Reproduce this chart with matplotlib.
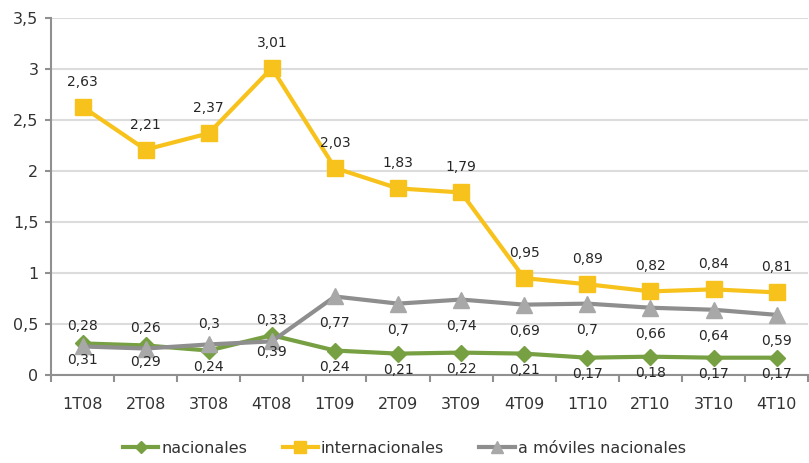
import matplotlib.pyplot as plt
import numpy as np

# datos
trimestres = ['1T08', '2T08', '3T08', '4T08', '1T09', '2T09', '3T09', '4T09', '1T10', '2T10', '3T10', '4T10']
nacionales = [0.31, 0.29, 0.24, 0.39, 0.24, 0.21, 0.22, 0.21, 0.17, 0.18, 0.17, 0.17]
internacionales = [2.63, 2.21, 2.37, 3.01, 2.03, 1.83, 1.79, 0.95, 0.89, 0.82, 0.84, 0.81]
moviles = [0.28, 0.26, 0.3, 0.33, 0.77, 0.7, 0.74, 0.69, 0.7, 0.66, 0.64, 0.59]

def coma(v):
    return ('%g' % v).replace('.', ',')

fig = plt.figure(figsize=(8.09, 4.63), dpi=100)
ax = fig.add_axes([0.063, 0.19, 0.936, 0.771])
x = np.arange(len(trimestres))

ax.plot(x, nacionales, color='#77a043', lw=3, marker='D', ms=8,
        mfc='#77a043', mec='#77a043', label='nacionales', zorder=3)
ax.plot(x, internacionales, color='#f8c21c', lw=3, marker='s', ms=11,
        mfc='#f8c21c', mec='#f8c21c', label='internacionales', zorder=3)
ax.plot(x, moviles, color='#8e8e8e', lw=3, marker='^', ms=11,
        mfc='#a8a8a8', mec='#a8a8a8', label='a móviles nacionales', zorder=3)

# etiquetas de datos
for i in x:
    ax.annotate(coma(internacionales[i]), (i, internacionales[i]), xytext=(0, 13),
                textcoords='offset points', ha='center', va='bottom', fontsize=10, color='#262626')
    ax.annotate(coma(nacionales[i]), (i, nacionales[i]), xytext=(0, -7),
                textcoords='offset points', ha='center', va='top', fontsize=10, color='#262626')
    if i < 4:
        ax.annotate(coma(moviles[i]), (i, moviles[i]), xytext=(0, 10),
                    textcoords='offset points', ha='center', va='bottom', fontsize=10, color='#262626')
    else:
        ax.annotate(coma(moviles[i]), (i, moviles[i]), xytext=(0, -14),
                    textcoords='offset points', ha='center', va='top', fontsize=10, color='#262626')

ax.set_xlim(-0.5, 11.5)
ax.set_ylim(0, 3.5)
ax.set_yticks(np.arange(0, 3.6, 0.5))
ax.set_yticklabels([coma(v) for v in np.arange(0, 3.6, 0.5)])
ax.set_xticks(x)
ax.set_xticklabels(trimestres)
ax.set_xticks(np.arange(-0.5, 12, 1), minor=True)
ax.tick_params(axis='x', which='major', length=0, pad=16, labelsize=11.5, colors='#333333')
ax.tick_params(axis='x', which='minor', length=5, width=1.5, color='#909090')
ax.tick_params(axis='y', length=4, width=1.5, color='#909090', labelsize=11.5, labelcolor='#333333', pad=5)

ax.grid(axis='y', color='#dcdcdc', lw=1.5)
ax.set_axisbelow(True)
for s in ['top', 'right']:
    ax.spines[s].set_visible(False)
ax.spines['left'].set_color('#909090')
ax.spines['left'].set_linewidth(1.5)
ax.spines['bottom'].set_color('#909090')
ax.spines['bottom'].set_linewidth(1.5)

fig.legend(loc='lower center', bbox_to_anchor=(0.5, -0.015), ncol=3, frameon=False,
           fontsize=11.5, handlelength=2.2, columnspacing=2.2, handletextpad=0.2,
           markerscale=0.75, labelcolor='#333333')

fig.savefig('out.png', dpi=100)
